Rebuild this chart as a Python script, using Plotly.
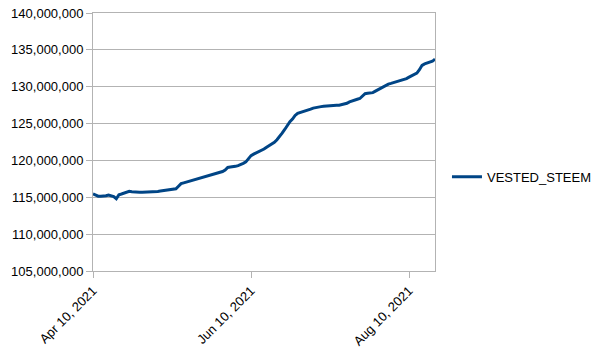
import plotly.graph_objects as go
import pandas as pd

start_date = "2021-04-10"
vested_steem_millions = [
    115.45, 115.30, 115.15, 115.15, 115.15, 115.20, 115.30, 115.20, 115.10, 114.80,
    115.35, 115.45, 115.55, 115.65, 115.80, 115.75, 115.70, 115.70, 115.70, 115.70,
    115.70, 115.70, 115.75, 115.80, 115.80, 115.80, 115.85, 115.90, 115.95, 116.00,
    115.95, 116.10, 116.15, 116.50, 116.85, 116.95, 117.05, 117.20, 117.30, 117.40,
    117.55, 117.65, 117.75, 117.85, 117.90, 118.00, 118.05, 118.15, 118.35, 118.45,
    118.50, 118.70, 119.05, 119.10, 119.10, 119.20, 119.30, 119.40, 119.60, 119.80,
    120.30, 120.65, 120.85, 121.00, 121.20, 121.40, 121.55, 121.80, 122.00, 122.20,
    122.45, 122.80, 123.20, 123.70, 124.20, 124.80, 125.25, 125.60, 126.10, 126.40,
    126.50, 126.55, 126.70, 126.85, 126.95, 127.10, 127.20, 127.25, 127.30, 127.35,
    127.40, 127.45, 127.50, 127.50, 127.50, 127.50, 127.55, 127.65, 127.75, 127.95,
    128.10, 128.20, 128.30, 128.40, 128.70, 129.05, 129.10, 129.15, 129.20, 129.40,
    129.60, 129.80, 130.05, 130.20, 130.35, 130.45, 130.55, 130.65, 130.70, 130.85,
    131.00, 131.10, 131.30, 131.50, 131.70, 131.85, 132.30, 132.90, 133.10, 133.20,
    133.35, 133.45, 133.75,
]
dates = pd.date_range(start_date, periods=len(vested_steem_millions), freq="D")
values = [v * 1e6 for v in vested_steem_millions]

x_tick_dates = ["2021-04-10", "2021-06-10", "2021-08-10"]
x_tick_labels = ["Apr 10, 2021", "Jun 10, 2021", "Aug 10, 2021"]
y_ticks = [105e6, 110e6, 115e6, 120e6, 125e6, 130e6, 135e6, 140e6]
y_tick_labels = ["105,000,000", "110,000,000", "115,000,000", "120,000,000",
                 "125,000,000", "130,000,000", "135,000,000", "140,000,000"]

fig = go.Figure()
fig.add_trace(go.Scatter(
    x=dates, y=values, mode="lines", name="VESTED_STEEM",
    line=dict(color="#004586", width=3),
))

grid = "#b3b3b3"
fig.update_layout(
    width=604, height=354,
    margin=dict(l=93, r=169, t=13, b=83, autoexpand=False),
    paper_bgcolor="white", plot_bgcolor="white",
    font=dict(family="Liberation Sans, Arial, sans-serif", size=13, color="#000000"),
    showlegend=True,
    legend=dict(x=1.035, y=0.365, xanchor="left", yanchor="middle",
                font=dict(size=13), bgcolor="rgba(0,0,0,0)", borderwidth=0,
                itemwidth=30),
    xaxis=dict(
        range=[dates[0], dates[-1]], automargin=False,
        tickvals=x_tick_dates, ticktext=x_tick_labels, tickangle=-45,
        showgrid=False, zeroline=False,
        showline=True, linecolor=grid, linewidth=1, mirror=True,
        ticks="outside", ticklen=6, tickcolor=grid,
    ),
    yaxis=dict(
        range=[105e6, 140e6], automargin=False,
        tickvals=y_ticks, ticktext=y_tick_labels,
        showgrid=True, gridcolor=grid, gridwidth=1, zeroline=False,
        showline=True, linecolor=grid, linewidth=1, mirror=True,
        ticks="outside", ticklen=6, tickcolor=grid,
    ),
)

fig.write_html("out.html")
